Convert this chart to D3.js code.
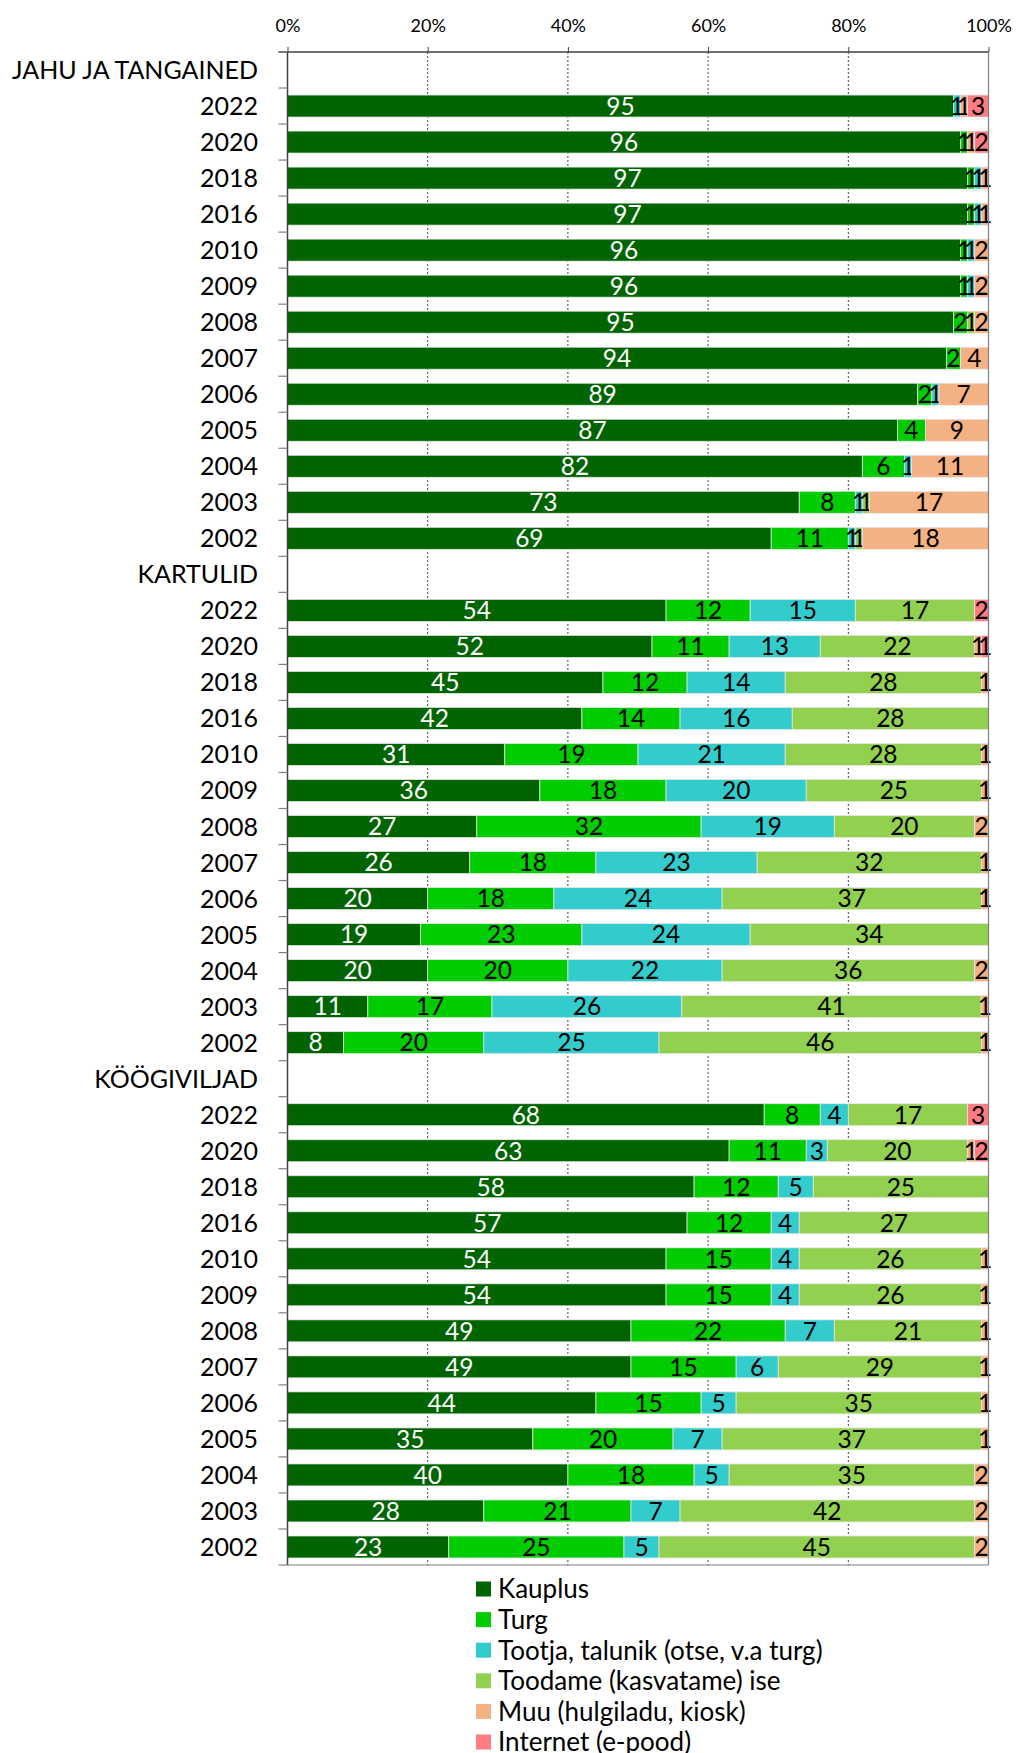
<!DOCTYPE html>
<html>
<head>
<meta charset="utf-8">
<script src="https://cdn.jsdelivr.net/npm/d3@7"></script>
<style>
  body { margin: 0; background: #fff; }
  svg { display: block; font-family: Lato, "Open Sans", sans-serif; }
</style>
</head>
<body>
<div id="chart"></div>
<script>
// series (stack order, left to right)
var seriesNames = ["Kauplus", "Turg", "Tootja, talunik (otse, v.a turg)", "Toodame (kasvatame) ise", "Muu (hulgiladu, kiosk)", "Internet (e-pood)"];
var seriesColors = ["#006400", "#00CC00", "#33CCCC", "#92D050", "#F4B183", "#FF7C80"];

var years = ["2022", "2020", "2018", "2016", "2010", "2009", "2008", "2007", "2006", "2005", "2004", "2003", "2002"];
var sections = ["JAHU JA TANGAINED", "KARTULID", "KÖÖGIVILJAD"];

// values per year: Kauplus, Turg, Tootja, Toodame ise, Muu, Internet
var jahu = [
  [95, 0, 1, 0, 1, 3],
  [96, 1, 0, 0, 1, 2],
  [97, 1, 1, 0, 1, 0],
  [97, 1, 1, 0, 1, 0],
  [96, 1, 1, 0, 2, 0],
  [96, 1, 1, 0, 2, 0],
  [95, 2, 0, 1, 2, 0],
  [94, 2, 0, 0, 4, 0],
  [89, 2, 1, 0, 7, 0],
  [87, 4, 0, 0, 9, 0],
  [82, 6, 1, 0, 11, 0],
  [73, 8, 1, 1, 17, 0],
  [69, 11, 1, 1, 18, 0]
];
var kartulid = [
  [54, 12, 15, 17, 0, 2],
  [52, 11, 13, 22, 1, 1],
  [45, 12, 14, 28, 1, 0],
  [42, 14, 16, 28, 0, 0],
  [31, 19, 21, 28, 1, 0],
  [36, 18, 20, 25, 1, 0],
  [27, 32, 19, 20, 2, 0],
  [26, 18, 23, 32, 1, 0],
  [20, 18, 24, 37, 1, 0],
  [19, 23, 24, 34, 0, 0],
  [20, 20, 22, 36, 2, 0],
  [11, 17, 26, 41, 1, 0],
  [8, 20, 25, 46, 1, 0]
];
var koogiviljad = [
  [68, 8, 4, 17, 0, 3],
  [63, 11, 3, 20, 1, 2],
  [58, 12, 5, 25, 0, 0],
  [57, 12, 4, 27, 0, 0],
  [54, 15, 4, 26, 1, 0],
  [54, 15, 4, 26, 1, 0],
  [49, 22, 7, 21, 1, 0],
  [49, 15, 6, 29, 1, 0],
  [44, 15, 5, 35, 1, 0],
  [35, 20, 7, 37, 1, 0],
  [40, 18, 5, 35, 2, 0],
  [28, 21, 7, 42, 2, 0],
  [23, 25, 5, 45, 2, 0]
];
var xTicks = [0, 0.2, 0.4, 0.6, 0.8, 1];

//build rows: section header followed by its years
var sectionValues = [jahu, kartulid, koogiviljad];
var rows = [];
sections.forEach(function(s, si) {
  rows.push({key: s, label: s, header: true});
  years.forEach(function(yr, yi) {
    var r = {key: s + "|" + yr, label: yr, header: false};
    sectionValues[si][yi].forEach(function(v, k) { r[k] = v; });
    rows.push(r);
  });
});
var dataRows = rows.filter(function(r) { return !r.header; });

var width = 1016, height = 1753;
var margin = {top: 52, left: 287.5, right: 27.5};
var plotBottom = 1565;

var svg = d3.select("#chart").append("svg")
  .attr("width", width)
  .attr("height", height);

var x = d3.scaleLinear().domain([0, 1]).range([margin.left, width - margin.right]);
var y = d3.scaleBand()
  .domain(rows.map(function(r) { return r.key; }))
  .range([margin.top, plotBottom])
  .paddingInner(0.39)
  .paddingOuter(0.195);

var keys = d3.range(seriesNames.length);
var stack = d3.stack().keys(keys).offset(d3.stackOffsetExpand);
var stacked = stack(dataRows);

// gridlines
svg.append("g").selectAll("line")
  .data(xTicks.filter(function(t) { return t > 0 && t < 1; }))
  .enter().append("line")
  .attr("x1", function(d) { return x(d); })
  .attr("x2", function(d) { return x(d); })
  .attr("y1", margin.top)
  .attr("y2", plotBottom)
  .attr("stroke", "#404040")
  .attr("stroke-width", 1)
  .attr("stroke-dasharray", "2,2");

// bars
var layers = svg.append("g").selectAll("g")
  .data(stacked)
  .enter().append("g")
  .attr("fill", function(d) { return seriesColors[d.key]; });

layers.selectAll("rect")
  .data(function(d) { return d; })
  .enter().append("rect")
  .attr("x", function(d) { return x(d[0]); })
  .attr("width", function(d) { return Math.max(0, x(d[1]) - x(d[0])); })
  .attr("y", function(d) { return y(d.data.key); })
  .attr("height", y.bandwidth())
  .attr("stroke", "#e6e6e6")
  .attr("stroke-width", 0.75);

// frame lines
svg.append("line")
  .attr("x1", x(1)).attr("x2", x(1))
  .attr("y1", margin.top).attr("y2", plotBottom)
  .attr("stroke", "#7f7f7f").attr("stroke-width", 1.2);
svg.append("line")
  .attr("x1", x(0)).attr("x2", x(1))
  .attr("y1", plotBottom).attr("y2", plotBottom)
  .attr("stroke", "#7f7f7f").attr("stroke-width", 1.2);

// top axis
var xAxis = d3.axisTop(x)
  .tickValues(xTicks)
  .tickSize(5)
  .tickFormat(d3.format(".0%"));
var gx = svg.append("g")
  .attr("transform", "translate(0," + margin.top + ")")
  .call(xAxis);
gx.select(".domain").attr("stroke", "#404040").attr("stroke-width", 1.5)
  .attr("d", "M" + (x(0) - 9) + ",0H" + x(1));
gx.selectAll(".tick line").attr("stroke", "#404040");
gx.selectAll("text")
  .attr("y", -26)
  .attr("dy", "0.36em")
  .style("font-size", "18px")
  .style("font-family", "Lato, sans-serif")
  .attr("fill", "#000");

// left axis line + ticks at band boundaries
var step = y.step();
var boundaries = rows.map(function(r) { return y(r.key) - step * y.paddingInner() / 2; });
boundaries.push(plotBottom);
svg.append("line")
  .attr("x1", x(0)).attr("x2", x(0))
  .attr("y1", margin.top).attr("y2", plotBottom)
  .attr("stroke", "#404040").attr("stroke-width", 1.5);
svg.append("g").selectAll("line")
  .data(boundaries)
  .enter().append("line")
  .attr("x1", x(0) - 9).attr("x2", x(0))
  .attr("y1", function(d) { return d; })
  .attr("y2", function(d) { return d; })
  .attr("stroke", "#7f7f7f").attr("stroke-width", 1.2);

// category labels
svg.append("g").selectAll("text")
  .data(rows)
  .enter().append("text")
  .attr("x", x(0) - 29.5)
  .attr("y", function(d) { return y(d.key) + y.bandwidth() / 2; })
  .attr("dy", "0.36em")
  .attr("text-anchor", "end")
  .style("font-size", "25px")
  .text(function(d) { return d.label; });

// data labels
layers.each(function(layer) {
  d3.select(this).selectAll("text")
    .data(layer.filter(function(d) { return d.data[layer.key] > 0; }))
    .enter().append("text")
    .attr("x", function(d) { return (x(d[0]) + x(d[1])) / 2; })
    .attr("y", function(d) { return y(d.data.key) + y.bandwidth() / 2; })
    .attr("dy", "0.36em")
    .attr("text-anchor", "middle")
    .attr("fill", layer.key === 0 ? "#ffffff" : "#000000")
    .style("font-size", "24.5px")
    .text(function(d) { return d.data[layer.key]; });
});

// legend
var legend = svg.append("g")
  .attr("transform", "translate(476,1589)");
var li = legend.selectAll("g")
  .data(seriesNames)
  .enter().append("g")
  .attr("transform", function(d, i) { return "translate(0," + (i * 30.6) + ")"; });
li.append("rect")
  .attr("x", 0).attr("y", -7.5)
  .attr("width", 15).attr("height", 15)
  .attr("fill", function(d, i) { return seriesColors[i]; });
li.append("text")
  .attr("x", 22)
  .attr("y", 0)
  .attr("dy", "0.36em")
  .style("font-size", "26px")
  .text(function(d) { return d; });
</script>
</body>
</html>
